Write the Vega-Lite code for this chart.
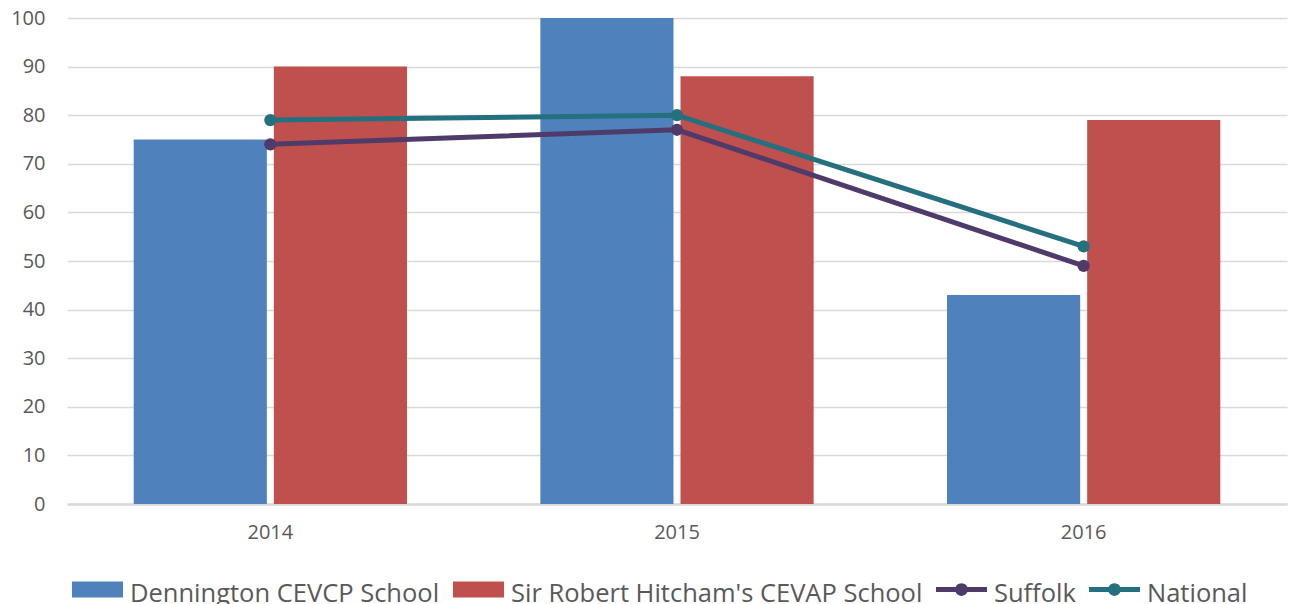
{
  "$schema": "https://vega.github.io/schema/vega-lite/v6.json",
  "width": 1220,
  "height": 486,
  "autosize": "none",
  "padding": {"left": 67, "top": 18, "right": 2, "bottom": 100},
  "background": "white",
  "config": {
    "view": {"stroke": null},
    "font": "Open Sans",
    "axis": {"labelFont": "Open Sans", "labelColor": "#595959"}
  },
  "data": {
    "values": [
      {"year": "2014", "series": "Dennington CEVCP School", "type": "bar", "value": 75},
      {"year": "2015", "series": "Dennington CEVCP School", "type": "bar", "value": 100},
      {"year": "2016", "series": "Dennington CEVCP School", "type": "bar", "value": 43},
      {"year": "2014", "series": "Sir Robert Hitcham's CEVAP School", "type": "bar", "value": 90},
      {"year": "2015", "series": "Sir Robert Hitcham's CEVAP School", "type": "bar", "value": 88},
      {"year": "2016", "series": "Sir Robert Hitcham's CEVAP School", "type": "bar", "value": 79},
      {"year": "2014", "series": "Suffolk", "type": "line", "value": 74},
      {"year": "2015", "series": "Suffolk", "type": "line", "value": 77},
      {"year": "2016", "series": "Suffolk", "type": "line", "value": 49},
      {"year": "2014", "series": "National", "type": "line", "value": 79},
      {"year": "2015", "series": "National", "type": "line", "value": 80},
      {"year": "2016", "series": "National", "type": "line", "value": 53}
    ]
  },
  "encoding": {
    "x": {
      "field": "year",
      "type": "nominal",
      "scale": {"paddingInner": 0.328, "paddingOuter": 0.164},
      "axis": {
        "title": null,
        "labelAngle": 0,
        "labelFontSize": 20,
        "labelPadding": 18,
        "ticks": false,
        "domain": true,
        "domainColor": "#D9D9D9",
        "domainWidth": 2.5
      }
    },
    "y": {
      "field": "value",
      "type": "quantitative",
      "scale": {"domain": [0, 100], "nice": false},
      "axis": {
        "title": null,
        "values": [0, 10, 20, 30, 40, 50, 60, 70, 80, 90, 100],
        "labelFontSize": 20,
        "labelPadding": 22,
        "ticks": false,
        "domain": false,
        "grid": true,
        "gridColor": "#D9D9D9",
        "gridWidth": 1.5
      }
    },
    "color": {
      "field": "series",
      "type": "nominal",
      "scale": {
        "domain": ["Dennington CEVCP School", "Sir Robert Hitcham's CEVAP School", "Suffolk", "National"],
        "range": ["#4F81BD", "#C0504D", "#4E3B69", "#25707E"]
      },
      "legend": {
        "title": null,
        "orient": "none",
        "legendX": 5,
        "legendY": 546,
        "direction": "horizontal",
        "padding": 0,
        "labelFont": "Open Sans",
        "labelFontSize": 25.5,
        "labelColor": "#595959",
        "labelLimit": 0,
        "labelOffset": 7,
        "columnPadding": 13,
        "symbolSize": 2601,
        "symbolStrokeWidth": 0,
        "encode": {
          "labels": {
            "update": {"dy": {"value": 4}}
          },
          "symbols": {
            "update": {
              "shape": {"signal": "indexof(['Suffolk','National'], datum.value) >= 0 ? 'M-1,-0.1H1V0.1H-1Z M0.25,0 A0.25,0.25 0 1,1 -0.25,0 A0.25,0.25 0 1,1 0.25,0 Z' : 'M-1,-0.314H1V0.314H-1Z'"},
              "fill": {"signal": "scale('color', datum.value)"},
              "stroke": {"value": "transparent"},
              "strokeWidth": {"value": 0},
              "opacity": {"value": 1},
              "size": {"value": 2601}
            }
          }
        }
      }
    }
  },
  "layer": [
    {
      "transform": [{"filter": "datum.type === 'bar'"}],
      "mark": {"type": "bar"},
      "encoding": {
        "xOffset": {
          "field": "series",
          "type": "nominal",
          "scale": {"domain": ["Dennington CEVCP School", "Sir Robert Hitcham's CEVAP School"], "paddingInner": 0.05, "paddingOuter": 0}
        }
      }
    },
    {
      "transform": [{"filter": "datum.type === 'line'"}],
      "mark": {"type": "line", "strokeWidth": 5, "point": {"filled": true, "size": 150}},
      "encoding": {}
    }
  ]
}
